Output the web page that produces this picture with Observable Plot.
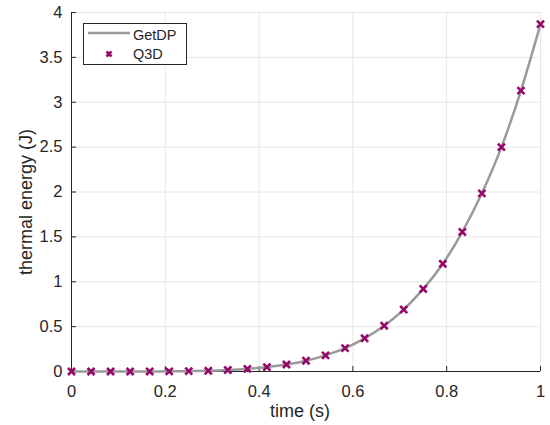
<!DOCTYPE html>
<html>
<head>
<meta charset="utf-8">
<script src="https://cdn.jsdelivr.net/npm/d3@7"></script>
<script src="https://cdn.jsdelivr.net/npm/@observablehq/plot@0.6"></script>
<style>
  html, body { margin: 0; padding: 0; background: #fff; }
  #wrap { position: relative; width: 550px; height: 425px; font-family: "Liberation Sans", Arial, sans-serif; }
  #legend { position: absolute; left: 83px; top: 23px; width: 104px; height: 42px; border: 1px solid #262626; background: #fff; box-sizing: border-box; color: #262626; }
  #legend svg { position: absolute; left: -1px; top: -1px; }
</style>
</head>
<body>
<div id="wrap"></div>
<script>
// time samples (s)
const times = [0, 0.0417, 0.0833, 0.125, 0.1667, 0.2083, 0.25, 0.2917, 0.3333, 0.375, 0.4167, 0.4583, 0.5, 0.5417, 0.5833, 0.625, 0.6667, 0.7083, 0.75, 0.7917, 0.8333, 0.875, 0.9167, 0.9583, 1];
// GetDP thermal energy (J)
const getdp = [0, 0, 0, 0.0001, 0.0005, 0.0015, 0.004, 0.008, 0.016, 0.029, 0.049, 0.078, 0.12, 0.18, 0.26, 0.37, 0.51, 0.69, 0.92, 1.2, 1.555, 1.985, 2.5, 3.13, 3.87];
// Q3D thermal energy (J)
const q3d = [0, 0, 0, 0.0001, 0.0005, 0.0015, 0.004, 0.008, 0.016, 0.029, 0.049, 0.078, 0.12, 0.18, 0.26, 0.37, 0.51, 0.69, 0.92, 1.2, 1.555, 1.985, 2.5, 3.13, 3.87];
const xTicks = [0, 0.2, 0.4, 0.6, 0.8, 1];
const yTicks = [0, 0.5, 1, 1.5, 2, 2.5, 3, 3.5, 4];
const seriesNames = ["GetDP", "Q3D"];
const xLabel = "time (s)";
const yLabel = "thermal energy (J)";

const lineData = times.map((t, i) => ({t, e: getdp[i]}));
const dotData = times.map((t, i) => ({t, e: q3d[i]}));

const fmt = d => String(d);
const ink = "#262626";

const chart = Plot.plot({
  width: 550,
  height: 425,
  marginLeft: 71,
  marginRight: 10,
  marginTop: 12,
  marginBottom: 54,
  style: {fontFamily: '"Liberation Sans", Arial, sans-serif', fontSize: "16px", color: ink, background: "white"},
  x: {domain: [0, 1]},
  y: {domain: [0, 4]},
  marks: [
    Plot.gridX(xTicks, {stroke: "#e6e6e6", strokeOpacity: 1}),
    Plot.gridY(yTicks, {stroke: "#e6e6e6", strokeOpacity: 1}),
    Plot.ruleY([0], {stroke: ink}),
    Plot.ruleX([0], {stroke: ink}),
    Plot.axisX(xTicks, {tickSize: -5, tickPadding: 19, tickFormat: fmt, stroke: ink, fill: ink, label: null, fontSize: 16.5}),
    Plot.axisY(yTicks, {tickSize: -5, tickPadding: 14, tickFormat: fmt, stroke: ink, fill: ink, label: null, fontSize: 16.5}),
    Plot.text([xLabel], {text: d => d, frameAnchor: "bottom", textAnchor: "middle", lineAnchor: "bottom", dy: 45, dx: -6, fontSize: 18, fill: ink}),
    Plot.text([yLabel], {text: d => d, frameAnchor: "left", textAnchor: "middle", lineAnchor: "bottom", rotate: -90, dx: -40, dy: 10, fontSize: 18, fill: ink}),
    Plot.line(lineData, {x: "t", y: "e", stroke: "#9a9a9a", strokeWidth: 2.5, curve: "monotone-x"}),
    Plot.dot(dotData, {x: "t", y: "e", symbol: "times", r: 3.3, stroke: "#95096b", strokeWidth: 2.6})
  ]
});

const wrap = document.getElementById("wrap");
wrap.appendChild(chart);

const legend = document.createElement("div");
legend.id = "legend";
legend.innerHTML = `<svg width="104" height="42" style="font-family: 'Liberation Sans', Arial, sans-serif">
  <line x1="5" y1="10" x2="47" y2="10" stroke="#9a9a9a" stroke-width="2.5"/>
  <text x="50" y="17" font-size="14.5" fill="${ink}">${seriesNames[0]}</text>
  <path d="M23.5,28.5l5,5M28.5,28.5l-5,5" stroke="#95096b" stroke-width="2.6"/>
  <text x="50" y="36" font-size="14.5" fill="${ink}">${seriesNames[1]}</text>
</svg>`;
wrap.appendChild(legend);
</script>
</body>
</html>
